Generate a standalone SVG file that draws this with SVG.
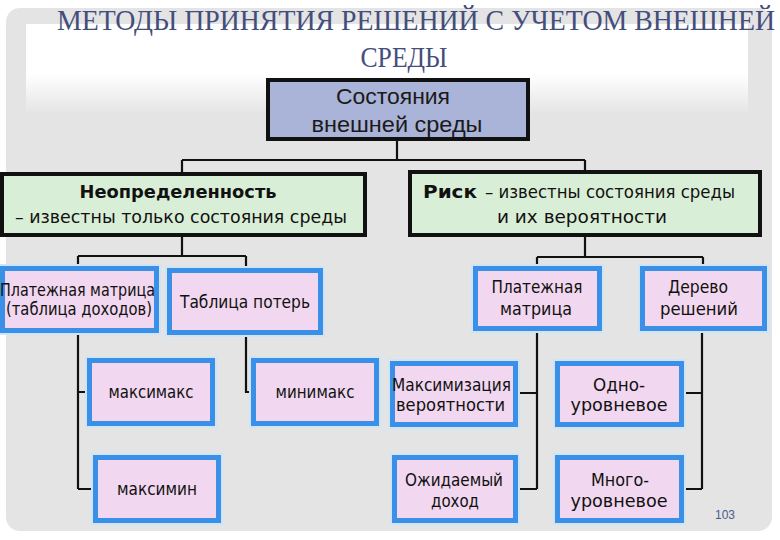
<svg xmlns="http://www.w3.org/2000/svg" width="780" height="540" viewBox="0 0 780 540">
<defs>
<linearGradient id="fade" x1="0" y1="0" x2="0" y2="1">
<stop offset="0" stop-color="#ffffff"/>
<stop offset="1" stop-color="#e4e4e4"/>
</linearGradient>
<style>
.title{font-family:"Liberation Serif","Times New Roman",serif;fill:#444e7c;font-size:30px;text-anchor:middle}
.top{fill:#aab3d8;stroke:#111;stroke-width:4}
.l2{fill:#d9eed6;stroke:#111;stroke-width:4}
.l3{fill:#f1d7ef;stroke:#3a8fe6;stroke-width:5}
.glow{fill:none;stroke:#cfe5f6;stroke-width:9}
.t1{font-family:"Liberation Sans",Arial,sans-serif;font-size:22px;fill:#1a1a1a;text-anchor:middle}
.t{font-family:"DejaVu Sans Condensed","DejaVu Sans",sans-serif;font-size:17px;fill:#111;text-anchor:middle}
.s{text-anchor:start}
.b{font-weight:bold}
.conn path{fill:none;stroke:#111;stroke-width:2.2}
</style>
</defs>
<rect width="780" height="540" fill="#ffffff"/>
<rect x="6" y="8" width="766" height="523" rx="14" fill="#e4e4e4"/>
<rect x="26" y="24" width="722" height="50" fill="#ffffff"/>
<rect x="26" y="74" width="722" height="40" fill="url(#fade)"/>
<g id="title">
<text class="title" x="416" y="30" textLength="718" lengthAdjust="spacingAndGlyphs">МЕТОДЫ ПРИНЯТИЯ РЕШЕНИЙ С УЧЕТОМ ВНЕШНЕЙ</text>
<text class="title" x="404" y="67" textLength="87" lengthAdjust="spacingAndGlyphs">СРЕДЫ</text>
</g>
<g class="conn" id="connectors">
<path d="M397 141V160M182 160H585M182 160V172M585 160V170"/>
<path d="M182 237V256M78 256H246M78 256V266M246 256V268"/>
<path d="M78 333V489M78 392H88M78 489H93"/>
<path d="M246 335V392H252"/>
<path d="M585 237V257M537 257H703M537 257V266M703 257V266"/>
<path d="M537 331V489M518 393H537M518 489H537"/>
<path d="M702 331V489M684 393H702M684 489H702"/>
</g>
<g id="n-top">
<rect class="top" x="268" y="80" width="260" height="59"/>
<text class="t1" x="393" y="104" textLength="114" lengthAdjust="spacingAndGlyphs">Состояния</text>
<text class="t1" x="397" y="132" textLength="171" lengthAdjust="spacingAndGlyphs">внешней среды</text>
</g>
<g id="n-uncert">
<rect class="l2" x="2" y="174" width="363" height="61"/>
<text class="t b" x="178" y="198" textLength="197" lengthAdjust="spacingAndGlyphs">Неопределенность</text>
<text class="t" x="181" y="223" textLength="332" lengthAdjust="spacingAndGlyphs">– известны только состояния среды</text>
</g>
<g id="n-risk">
<rect class="l2" x="410" y="172" width="350" height="63"/>
<text class="t s b" x="423" y="198" textLength="54" lengthAdjust="spacingAndGlyphs">Риск</text>
<text class="t s" x="485" y="198" textLength="250" lengthAdjust="spacingAndGlyphs">– известны состояния среды</text>
<text class="t" x="582" y="223" textLength="170" lengthAdjust="spacingAndGlyphs">и их вероятности</text>
</g>
<g id="n-pay1">
<rect class="glow" x="2.5" y="268.5" width="154" height="62"/>
<rect class="l3" x="2.5" y="268.5" width="154" height="62"/>
<text class="t s" x="0" y="296" textLength="155" lengthAdjust="spacingAndGlyphs">Платежная матрица</text>
<text class="t s" x="6" y="315" textLength="146" lengthAdjust="spacingAndGlyphs">(таблица доходов)</text>
</g>
<g id="n-loss">
<rect class="glow" x="169.5" y="270.5" width="151" height="62"/>
<rect class="l3" x="169.5" y="270.5" width="151" height="62"/>
<text class="t s" x="180" y="308" textLength="130" lengthAdjust="spacingAndGlyphs">Таблица потерь</text>
</g>
<g id="n-pay2">
<rect class="glow" x="475.5" y="268.5" width="124" height="60"/>
<rect class="l3" x="475.5" y="268.5" width="124" height="60"/>
<text class="t" x="537" y="293" textLength="91" lengthAdjust="spacingAndGlyphs">Платежная</text>
<text class="t" x="536" y="315" textLength="72" lengthAdjust="spacingAndGlyphs">матрица</text>
</g>
<g id="n-tree">
<rect class="glow" x="642.5" y="268.5" width="122" height="60"/>
<rect class="l3" x="642.5" y="268.5" width="122" height="60"/>
<text class="t" x="698" y="293" textLength="60" lengthAdjust="spacingAndGlyphs">Дерево</text>
<text class="t" x="699" y="315" textLength="78" lengthAdjust="spacingAndGlyphs">решений</text>
</g>
<g id="n-maximax">
<rect class="glow" x="89.5" y="360.5" width="123" height="63"/>
<rect class="l3" x="89.5" y="360.5" width="123" height="63"/>
<text class="t" x="151" y="398" textLength="85" lengthAdjust="spacingAndGlyphs">максимакс</text>
</g>
<g id="n-minimax">
<rect class="glow" x="253.5" y="360.5" width="123" height="63"/>
<rect class="l3" x="253.5" y="360.5" width="123" height="63"/>
<text class="t" x="315" y="398" textLength="79" lengthAdjust="spacingAndGlyphs">минимакс</text>
</g>
<g id="n-maximin">
<rect class="glow" x="95.5" y="457.5" width="123" height="63"/>
<rect class="l3" x="95.5" y="457.5" width="123" height="63"/>
<text class="t" x="157" y="495" textLength="80" lengthAdjust="spacingAndGlyphs">максимин</text>
</g>
<g id="n-maxprob">
<rect class="glow" x="392.5" y="363.5" width="123" height="61"/>
<rect class="l3" x="392.5" y="363.5" width="123" height="61"/>
<text class="t s" x="392" y="391" textLength="119" lengthAdjust="spacingAndGlyphs">Максимизация</text>
<text class="t s" x="396" y="411" textLength="109" lengthAdjust="spacingAndGlyphs">вероятности</text>
</g>
<g id="n-expected">
<rect class="glow" x="394.5" y="457.5" width="121" height="63"/>
<rect class="l3" x="394.5" y="457.5" width="121" height="63"/>
<text class="t" x="454" y="486" textLength="98" lengthAdjust="spacingAndGlyphs">Ожидаемый</text>
<text class="t" x="455" y="507" textLength="48" lengthAdjust="spacingAndGlyphs">доход</text>
</g>
<g id="n-single">
<rect class="glow" x="557.5" y="363.5" width="124" height="61"/>
<rect class="l3" x="557.5" y="363.5" width="124" height="61"/>
<text class="t" x="619" y="391" textLength="52" lengthAdjust="spacingAndGlyphs">Одно-</text>
<text class="t" x="619" y="411" textLength="97" lengthAdjust="spacingAndGlyphs">уровневое</text>
</g>
<g id="n-multi">
<rect class="glow" x="557.5" y="457.5" width="124" height="63"/>
<rect class="l3" x="557.5" y="457.5" width="124" height="63"/>
<text class="t" x="620" y="486" textLength="58" lengthAdjust="spacingAndGlyphs">Много-</text>
<text class="t" x="619" y="507" textLength="97" lengthAdjust="spacingAndGlyphs">уровневое</text>
</g>
<text x="725" y="519" font-family="Liberation Sans,Arial,sans-serif" font-size="12" fill="#4a5a8a" text-anchor="middle">103</text>
</svg>
